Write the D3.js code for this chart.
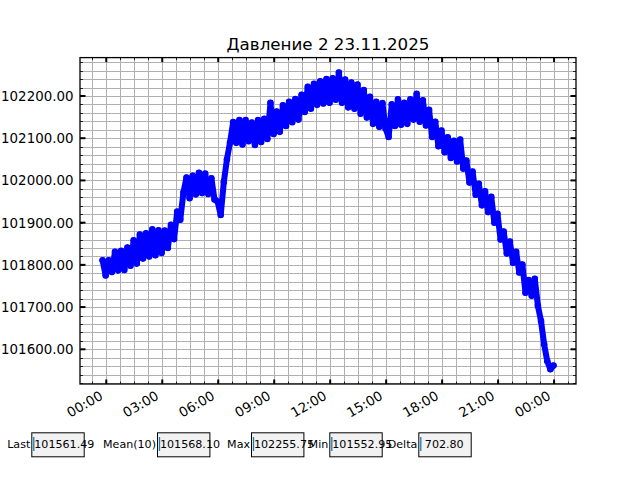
<!DOCTYPE html>
<html>
<head>
<meta charset="utf-8">
<script src="https://cdn.jsdelivr.net/npm/d3@7/dist/d3.min.js"></script>
<style>
  html, body { margin: 0; padding: 0; background: #ffffff; }
  svg { display: block; }
  text { font-family: "DejaVu Sans", sans-serif; }
</style>
</head>
<body>
<script>
// ---------------- DATA ----------------
const chartTitle = "Давление 2 23.11.2025";
const startTime = "2025-11-22T23:48:00Z";
const stepMinutes = 10;
const pressure = [
  101811, 101775, 101811, 101783, 101831, 101787, 101833, 101788, 101841, 101798,
  101858, 101803, 101872, 101815, 101875, 101820, 101884, 101823, 101882, 101828,
  101881, 101840, 101895, 101861, 101926, 101907, 101971, 102007, 101958, 102011,
  101967, 102018, 101970, 102016, 101968, 102005, 101955, 101950, 101918, 101996,
  102050, 102090, 102138, 102089, 102143, 102085, 102143, 102093, 102137, 102084,
  102143, 102091, 102146, 102098, 102184, 102110, 102163, 102115, 102178, 102129,
  102186, 102138, 102193, 102144, 102203, 102162, 102222, 102170, 102229, 102179,
  102235, 102182, 102240, 102184, 102242, 102191, 102255.75, 102184, 102239, 102173,
  102232, 102170, 102227, 102158, 102214, 102149, 102198, 102134, 102186, 102127,
  102183, 102123, 102103, 102180, 102129, 102192, 102132, 102184, 102134, 102192,
  102144, 102205, 102139, 102190, 102130, 102167, 102103, 102139, 102081, 102118,
  102067, 102102, 102053, 102094, 102045, 102097, 102028, 102047, 101995, 102021,
  101966, 101992, 101941, 101974, 101925, 101961, 101900, 101921, 101860, 101879,
  101827, 101855, 101805, 101831, 101782, 101801, 101734, 101764, 101727, 101767,
  101703, 101667, 101612, 101572, 101552.95, 101561.49
];
const yMajorStep = 100;
const yMinorStep = 20;
const xMajorHours = 3;
const xMinorMinutes = 45;
const statLabels = ["Last", "Mean(10)", "Max", "Min", "Delta"];
const statValues = ["101561.49", "101568.10", "102255.75", "101552.95", " 702.80"];

// ---------------- LAYOUT ----------------
const W = 640, H = 480;
const plot = { left: 80, right: 576, top: 57.6, bottom: 384 };
const boxLefts = [31.3, 157, 251, 329.3, 418.3];
const boxW = 52.4, boxTop = 432.3, boxH = 24;

const t0 = new Date(startTime);
const data = pressure.map((v, i) => ({ t: new Date(t0.getTime() + i * stepMinutes * 60000), v }));

const svg = d3.select("body").append("svg").attr("width", W).attr("height", H);

// scales with 5% margins
const tExt = d3.extent(data, d => d.t);
const tSpan = tExt[1] - tExt[0];
const x = d3.scaleUtc()
  .domain([new Date(+tExt[0] - 0.05 * tSpan), new Date(+tExt[1] + 0.05 * tSpan)])
  .range([plot.left, plot.right]);
const vExt = d3.extent(data, d => d.v);
const vSpan = vExt[1] - vExt[0];
const y = d3.scaleLinear()
  .domain([vExt[0] - 0.05 * vSpan, vExt[1] + 0.05 * vSpan])
  .range([plot.bottom, plot.top]);

// ticks
const dayStart = new Date("2025-11-23T00:00:00Z");
const [xd0, xd1] = x.domain();
const xMinor = d3.utcMinute.every(15).range(xd0, xd1)
  .filter(d => Math.round((d - dayStart) / 60000) % xMinorMinutes === 0);
const xMajor = d3.utcHour.every(xMajorHours).range(xd0, xd1);
const [yd0, yd1] = y.domain();
const yMinor = d3.range(Math.ceil(yd0 / yMinorStep) * yMinorStep, yd1, yMinorStep);
const yMajor = d3.range(Math.ceil(yd0 / yMajorStep) * yMajorStep, yd1, yMajorStep);

const px = v => Math.round(v) + 0.5;

// grid
const grid = svg.append("g").attr("stroke", "#b0b0b0").attr("stroke-width", 1);
grid.selectAll("line.gx").data(xMinor).join("line")
  .attr("x1", d => px(x(d))).attr("x2", d => px(x(d)))
  .attr("y1", plot.top).attr("y2", plot.bottom);
grid.selectAll("line.gy").data(yMinor).join("line")
  .attr("y1", d => px(y(d))).attr("y2", d => px(y(d)))
  .attr("x1", plot.left).attr("x2", plot.right);

// data
svg.append("clipPath").attr("id", "clip").append("rect")
  .attr("x", plot.left).attr("y", plot.top)
  .attr("width", plot.right - plot.left).attr("height", plot.bottom - plot.top);
const dg = svg.append("g").attr("clip-path", "url(#clip)");
dg.append("path").datum(data)
  .attr("fill", "none").attr("stroke", "#0000ff").attr("stroke-width", 6)
  .attr("stroke-linejoin", "round").attr("stroke-linecap", "round")
  .attr("d", d3.line().x(d => x(d.t)).y(d => y(d.v)));
dg.selectAll("circle").data(data).join("circle")
  .attr("cx", d => x(d.t)).attr("cy", d => y(d.v)).attr("r", 3.3)
  .attr("fill", "#0000ff");

// ticks (inside, all sides)
const tk = svg.append("g").attr("stroke", "#000");
xMinor.forEach(d => {
  const xx = px(x(d));
  tk.append("line").attr("x1", xx).attr("x2", xx).attr("y1", plot.bottom).attr("y2", plot.bottom - 2.5).attr("stroke-width", 0.8);
  tk.append("line").attr("x1", xx).attr("x2", xx).attr("y1", plot.top).attr("y2", plot.top + 2.5).attr("stroke-width", 0.8);
});
xMajor.forEach(d => {
  const xx = x(d);
  tk.append("line").attr("x1", xx).attr("x2", xx).attr("y1", plot.bottom).attr("y2", plot.bottom - 4.5).attr("stroke-width", 2);
  tk.append("line").attr("x1", xx).attr("x2", xx).attr("y1", plot.top).attr("y2", plot.top + 4.5).attr("stroke-width", 2);
});
yMinor.forEach(d => {
  const yy = px(y(d));
  tk.append("line").attr("y1", yy).attr("y2", yy).attr("x1", plot.left).attr("x2", plot.left + 3).attr("stroke-width", 0.8);
  tk.append("line").attr("y1", yy).attr("y2", yy).attr("x1", plot.right).attr("x2", plot.right - 3).attr("stroke-width", 0.8);
});
yMajor.forEach(d => {
  const yy = y(d);
  tk.append("line").attr("y1", yy).attr("y2", yy).attr("x1", plot.left).attr("x2", plot.left + 5.5).attr("stroke-width", 2);
  tk.append("line").attr("y1", yy).attr("y2", yy).attr("x1", plot.right).attr("x2", plot.right - 5.5).attr("stroke-width", 2);
});

// frame
svg.append("rect").attr("x", plot.left).attr("y", plot.top)
  .attr("width", plot.right - plot.left).attr("height", plot.bottom - plot.top)
  .attr("fill", "none").attr("stroke", "#000").attr("stroke-width", 1.3);

// tick labels
const fmtT = d3.utcFormat("%H:%M");
svg.append("g").selectAll("text").data(xMajor).join("text")
  .attr("transform", d => `translate(${x(d) - 2.5},398.5) rotate(-30)`)
  .attr("text-anchor", "end").attr("font-size", 13.4).attr("fill", "#000")
  .text(d => fmtT(d));
const fmtY = d3.format(".2f");
svg.append("g").selectAll("text").data(yMajor).join("text")
  .attr("x", 73.5).attr("y", d => y(d) + 4.9)
  .attr("text-anchor", "end").attr("font-size", 13.4).attr("fill", "#000")
  .text(d => fmtY(d));

// title
svg.append("text").attr("x", (plot.left + plot.right) / 2).attr("y", 50)
  .attr("text-anchor", "middle").attr("font-size", 16.7).attr("fill", "#000")
  .text(chartTitle);

// stat boxes
statLabels.forEach((lab, i) => {
  const bx = boxLefts[i];
  const g = svg.append("g");
  g.append("rect").attr("x", bx + 0.5).attr("y", boxTop + 0.5).attr("width", boxW).attr("height", boxH)
    .attr("fill", "#f2f2f2").attr("stroke", "#000").attr("stroke-width", 1);
  g.append("line").attr("x1", bx + 2.5).attr("x2", bx + 2.5).attr("y1", 437).attr("y2", 451)
    .attr("stroke", "#1f77b4").attr("stroke-width", 1.3);
  g.append("text").attr("x", bx - 1).attr("y", 448.4).attr("text-anchor", "end")
    .attr("font-size", 11.1).attr("fill", "#000").text(lab);
  g.append("text").attr("x", bx + 3).attr("y", 448.4).attr("font-size", 11.1)
    .attr("fill", "#000").style("white-space", "pre").text(statValues[i]);
});
</script>
</body>
</html>
